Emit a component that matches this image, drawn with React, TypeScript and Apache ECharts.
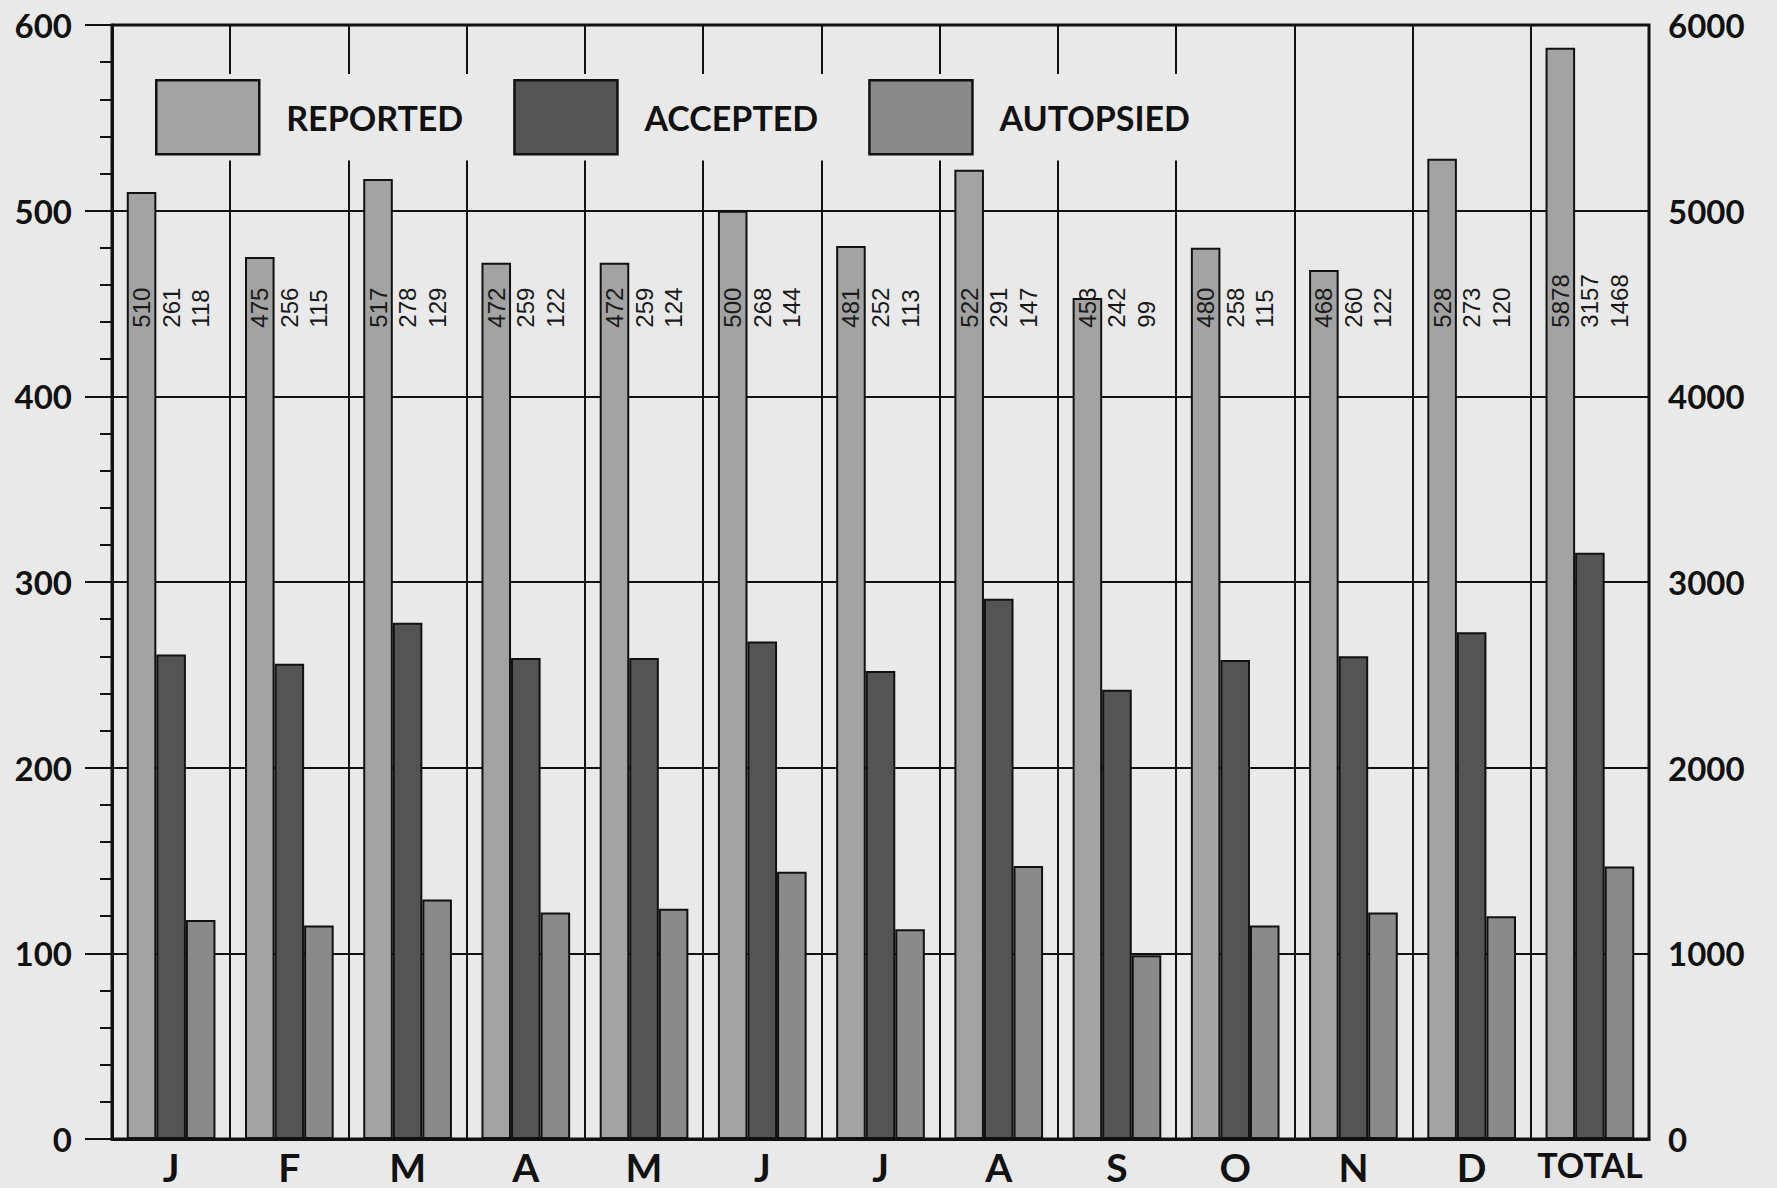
import React, { useEffect, useRef } from "react";
import * as echarts from "echarts";

// ---- data ----
const categories = ["J", "F", "M", "A", "M", "J", "J", "A", "S", "O", "N", "D", "TOTAL"];
const seriesNames = ["REPORTED", "ACCEPTED", "AUTOPSIED"];
const reportedMonthly = [510, 475, 517, 472, 472, 500, 481, 522, 453, 480, 468, 528];
const acceptedMonthly = [261, 256, 278, 259, 259, 268, 252, 291, 242, 258, 260, 273];
const autopsiedMonthly = [118, 115, 129, 122, 124, 144, 113, 147, 99, 115, 122, 120];
const reportedTotal = 5878;
const acceptedTotal = 3157;
const autopsiedTotal = 1468;
const leftAxisMax = 600;
const leftAxisStep = 100;
const rightAxisMax = 6000;
const rightAxisStep = 1000;
const labelBaseValue = 437; // value (left scale) where the rotated number labels start

// ---- layout / style ----
const W = 1777;
const H = 1188;
const GRID = { left: 112, right: 128, top: 25, bottom: 49 };
const BG = "#e9e9e9";
const INK = "#111111";
const COLORS = ["#a3a3a3", "#545454", "#8a8a8a"];
const BOLD_FONT = "Lato, 'Open Sans', 'DejaVu Sans', sans-serif";
const LABEL_FONT = "'Liberation Sans', Arial, sans-serif";

function buildData(monthly: number[], total: number) {
  const ratio = leftAxisMax / rightAxisMax;
  return [
    ...monthly.map((v) => ({ value: v, raw: v })),
    { value: total * ratio, raw: total },
  ];
}

export default function App() {
  const ref = useRef<HTMLDivElement>(null);

  useEffect(() => {
    if (!ref.current) return;
    const chart = echarts.init(ref.current, undefined, { renderer: "svg" });
    const gridHeight = H - GRID.top - GRID.bottom;
    const labelDistance = (labelBaseValue / leftAxisMax) * gridHeight;

    const datasets = [
      buildData(reportedMonthly, reportedTotal),
      buildData(acceptedMonthly, acceptedTotal),
      buildData(autopsiedMonthly, autopsiedTotal),
    ];

    const series = seriesNames.map((name, i) => ({
      name,
      type: "bar",
      yAxisIndex: 0,
      barGap: "0%",
      barCategoryGap: "25%",
      data: datasets[i],
      itemStyle: { color: COLORS[i], borderColor: INK, borderWidth: 2 },
      label: {
        show: true,
        position: "insideBottom",
        distance: labelDistance,
        rotate: 90,
        align: "left",
        verticalAlign: "middle",
        fontFamily: LABEL_FONT,
        fontSize: 24,
        color: "#1a1a1a",
        formatter: (p: any) => String(p.data.raw),
      },
      emphasis: { disabled: true },
    }));

    chart.setOption({
      animation: false,
      backgroundColor: BG,
      grid: {
        ...GRID,
        show: true,
        borderColor: INK,
        borderWidth: 3,
        backgroundColor: "transparent",
        containLabel: false,
      },
      legend: {
        data: seriesNames,
        left: GRID.left + 38,
        top: 74,
        padding: 5,
        icon: "rect",
        itemWidth: 103,
        itemHeight: 74,
        itemGap: 50,
        selectedMode: false,
        backgroundColor: BG,
        itemStyle: { borderColor: INK, borderWidth: 2.5 },
        textStyle: {
          fontFamily: BOLD_FONT,
          fontWeight: "bold",
          fontSize: 34,
          color: INK,
          padding: [0, 0, 0, 22],
        },
      },
      xAxis: {
        type: "category",
        data: categories,
        boundaryGap: true,
        axisLine: { show: true, lineStyle: { color: INK, width: 3 } },
        axisTick: { show: false },
        splitLine: { show: true, lineStyle: { color: INK, width: 2 } },
        axisLabel: {
          margin: 8,
          fontFamily: BOLD_FONT,
          fontWeight: "bold",
          fontSize: 39,
          color: INK,
          interval: 0,
          formatter: (v: string) => (v.length > 1 ? `{t|${v}}` : v),
          rich: {
            t: { fontFamily: BOLD_FONT, fontWeight: "bold", fontSize: 34, color: INK },
          },
        },
      },
      yAxis: [
        {
          type: "value",
          min: 0,
          max: leftAxisMax,
          interval: leftAxisStep,
          position: "left",
          axisLine: { show: true, lineStyle: { color: INK, width: 3 } },
          axisTick: { show: true, length: 27, lineStyle: { color: INK, width: 2 } },
          minorTick: { show: true, splitNumber: 5, length: 12, lineStyle: { color: INK, width: 2 } },
          splitLine: { show: true, lineStyle: { color: INK, width: 2 } },
          axisLabel: {
            margin: 40,
            fontFamily: BOLD_FONT,
            fontWeight: "bold",
            fontSize: 33,
            color: INK,
            formatter: (v: number) => String(v),
          },
        },
        {
          type: "value",
          min: 0,
          max: rightAxisMax,
          interval: rightAxisStep,
          position: "right",
          axisLine: { show: false },
          axisTick: { show: false },
          splitLine: { show: false },
          axisLabel: {
            margin: 19,
            fontFamily: BOLD_FONT,
            fontWeight: "bold",
            fontSize: 33,
            color: INK,
            formatter: (v: number) => String(v),
          },
        },
      ],
      series,
    });

    return () => chart.dispose();
  }, []);

  return (
    <div
      ref={ref}
      style={{ position: "fixed", left: 0, top: 0, width: W, height: H, background: BG }}
    />
  );
}
